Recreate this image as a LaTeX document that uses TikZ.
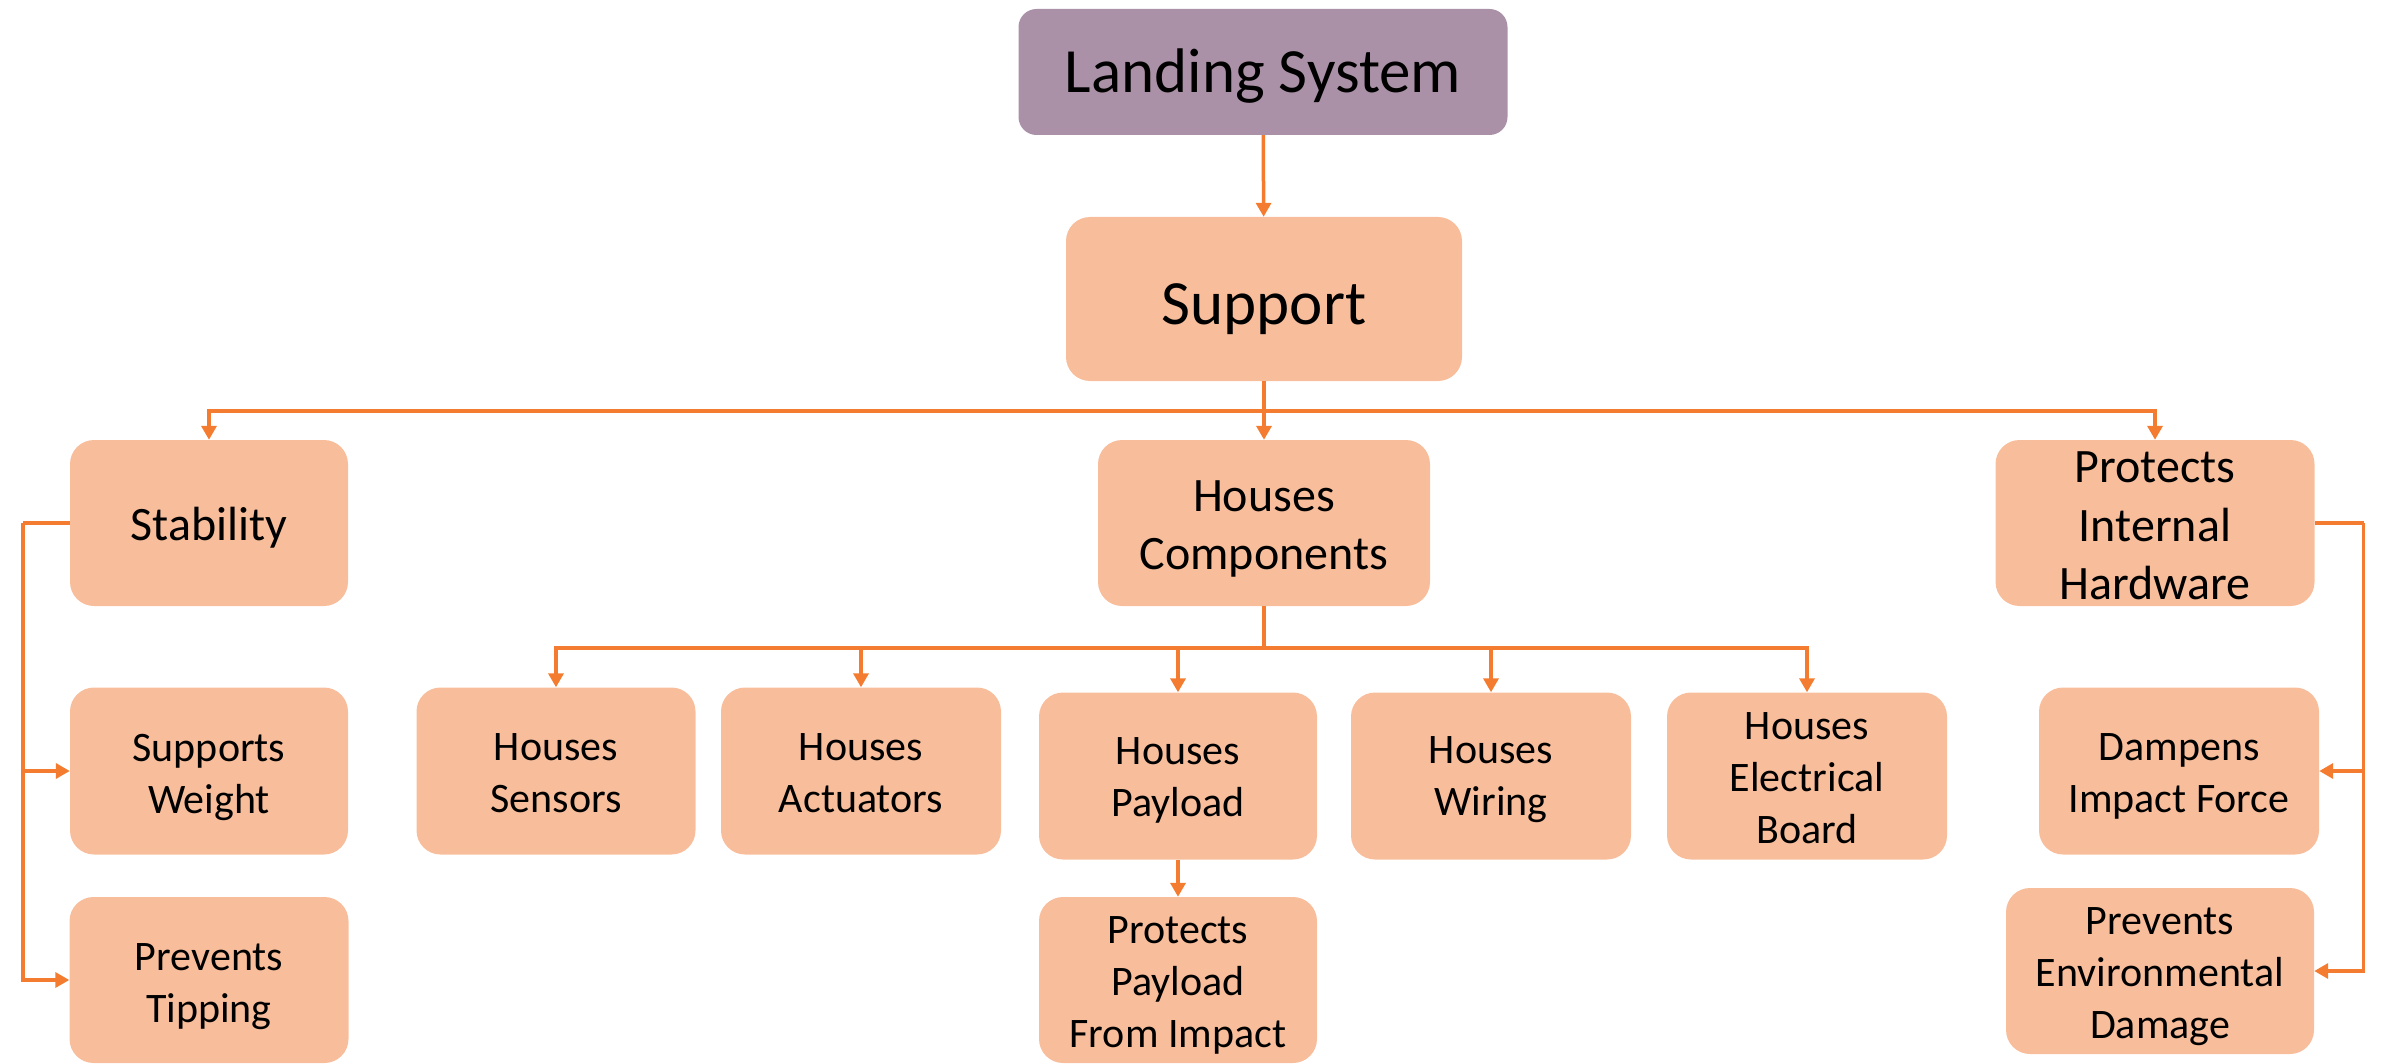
\documentclass[tikz,border=0pt]{standalone}
\usepackage{fontspec}
\setmainfont{Carlito}
\usetikzlibrary{arrows.meta}
\definecolor{topfill}{HTML}{AB91A7}
\definecolor{boxfill}{HTML}{F8BE9C}
\definecolor{linkc}{HTML}{F47C30}
\tikzset{
  topbox/.style={fill=topfill, rounded corners=18pt, inner sep=0pt},
  card/.style={fill=boxfill, rounded corners=24pt, inner sep=0pt},
  bigtxt/.style={inner sep=0pt, align=center, font=\fontsize{63}{77}\selectfont},
  midtxt/.style={inner sep=0pt, align=center, font=\fontsize{48}{58.5}\selectfont},
  leaftxt/.style={inner sep=0pt, align=center, font=\fontsize{42}{52}\selectfont},
  link/.style={draw=linkc, line width=3.5pt},
  arr/.style={link, -{Triangle[width=15pt,length=14pt]}},
}
\begin{document}
\begin{tikzpicture}[x=1pt,y=-1pt]
\useasboundingbox (0,0) rectangle (2381,1064);

% boxes
\node[topbox, minimum width=489pt, minimum height=126pt] (land) at (1263,72) {};
\node[card, minimum width=396pt, minimum height=164pt] (supp) at (1264,299) {};

\node[card, minimum width=278pt, minimum height=166pt] (stab) at (209,523) {};
\node[card, minimum width=332pt, minimum height=166pt] (hc) at (1264,523) {};
\node[card, minimum width=319pt, minimum height=166pt] (pih) at (2155,523) {};

\node[card, minimum width=278pt, minimum height=167pt] (sw) at (209,771) {};
\node[card, minimum width=279pt, minimum height=166pt] (pt) at (209,980) {};

\node[card, minimum width=279pt, minimum height=167pt] (sens) at (556,771) {};
\node[card, minimum width=280pt, minimum height=167pt] (act) at (861,771) {};
\node[card, minimum width=278pt, minimum height=167pt] (pay) at (1178,776) {};
\node[card, minimum width=280pt, minimum height=167pt] (wir) at (1491,776) {};
\node[card, minimum width=280pt, minimum height=167pt] (elec) at (1807,776) {};
\node[card, minimum width=278pt, minimum height=166pt] (ppfi) at (1178,980) {};

\node[card, minimum width=280pt, minimum height=167pt] (damp) at (2179,771) {};
\node[card, minimum width=308pt, minimum height=166pt] (ped) at (2160,971) {};

% labels, set a little below each box centre
\node[bigtxt] (land-t) at ([yshift=-4pt]land.center) {Landing System};
\node[bigtxt] (supp-t) at ([yshift=-10pt]supp.center) {Support};
\node[midtxt] (stab-t) at ([yshift=-5pt]stab.center) {Stability};
\node[midtxt] (hc-t) at ([yshift=-6pt]hc.center) {Houses\\Components};
\node[midtxt] (pih-t) at ([yshift=-3pt]pih.center) {Protects\\Internal\\Hardware};
\node[leaftxt] (sw-t) at ([yshift=-6pt]sw.center) {Supports\\Weight};
\node[leaftxt] (pt-t) at ([yshift=-7pt]pt.center) {Prevents\\Tipping};
\node[leaftxt] (sens-t) at ([yshift=-2pt]sens.center) {Houses\\Sensors};
\node[leaftxt] (act-t) at ([yshift=-2pt]act.center) {Houses\\Actuators};
\node[leaftxt] (pay-t) at ([yshift=-4pt]pay.center) {Houses\\Payload};
\node[leaftxt] (wir-t) at ([yshift=-4pt]wir.center) {Houses\\Wiring};
\node[leaftxt] (elec-t) at ([yshift=-2pt]elec.center) {Houses\\Electrical\\Board};
\node[leaftxt] (ppfi-t) at ([yshift=-5pt]ppfi.center) {Protects\\Payload\\From Impact};
\node[leaftxt] (damp-t) at ([yshift=-5pt]damp.center) {Dampens\\Impact Force};
\node[leaftxt] (ped-t) at ([yshift=-6pt]ped.center) {Prevents\\Environmental\\Damage};

% connectors
\draw[arr] (land) -- (supp);

\coordinate (b1) at (1264,411);
\draw[link] (supp) -- (b1);
\draw[arr] (b1) -| (stab.north);
\draw[arr] (b1) -- (hc);
\draw[arr] (b1) -| (pih.north);

\draw[link] (stab.west) -- ++(-47,0) coordinate (lb);
\draw[arr] (lb) |- (sw.west);
\draw[arr] (lb) |- (pt.west);

\draw[link] (pih.east) -- ++(49,0) coordinate (rb);
\draw[arr] (rb) |- (damp.east);
\draw[arr] (rb) |- (ped.east);

\coordinate (b2) at (1264,648);
\draw[link] (hc) -- (b2);
\draw[arr] (b2) -| (sens.north);
\draw[arr] (b2) -| (act.north);
\draw[arr] (b2) -| (pay.north);
\draw[arr] (b2) -| (wir.north);
\draw[arr] (b2) -| (elec.north);

\draw[arr] (pay) -- (ppfi);
\end{tikzpicture}
\end{document}
